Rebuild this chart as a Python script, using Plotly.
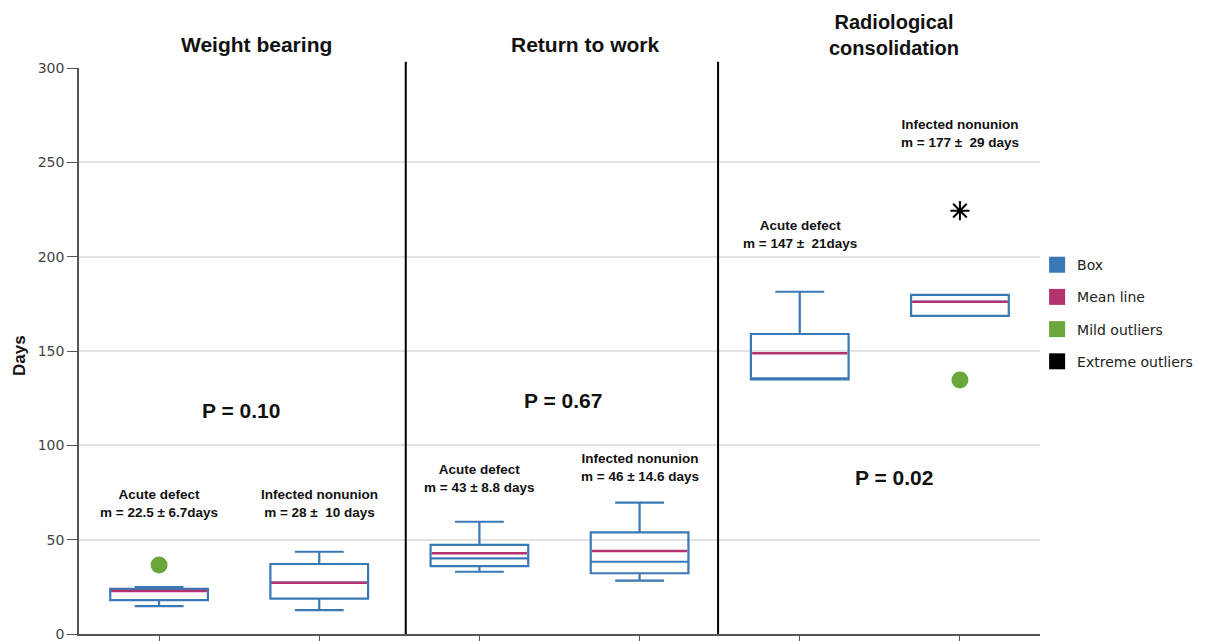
import plotly.graph_objects as go

# ---- data ----
panels = ["Weight bearing", "Return to work", "Radiological<br>consolidation"]
groups = ["Acute defect", "Infected nonunion", "Acute defect", "Infected nonunion",
          "Acute defect", "Infected nonunion"]
positions = [0, 1, 2, 3, 4, 5]
q1 = [18.0, 18.7, 36.0, 32.2, 135.0, 168.6]
median = [22.8, 27.2, 40.1, 38.3, 135.5, 176.1]
q3 = [23.9, 37.1, 47.2, 53.9, 159.0, 179.7]
lower_fence = [14.8, 12.7, 33.0, 28.3, 135.0, 168.6]
upper_fence = [24.9, 43.6, 59.5, 69.6, 181.4, 179.7]
means = [22.8, 27.2, 42.8, 44.0, 148.8, 176.1]
mean_labels = ["m = 22.5 ± 6.7days", "m = 28 ±  10 days", "m = 43 ± 8.8 days",
               "m = 46 ± 14.6 days", "m = 147 ±  21days", "m = 177 ±  29 days"]
mild_x = [0, 5]
mild_y = [36.6, 134.6]
extreme_x = [5]
extreme_y = [224.4]
p_values = ["P = 0.10", "P = 0.67", "P = 0.02"]
y_ticks = [0, 50, 100, 150, 200, 250, 300]

# ---- styles / positions ----
BLUE = "#3a78b6"
MAGENTA = "#b3336f"
GREEN = "#6aa63a"
label_y = [59.5, 59.5, 72.5, 78.7, 202.0, 255.7]
p_pos = [(0.51, 118.7), (2.52, 124.0), (4.59, 82.7)]
title_pos = [(0.61, 1.042), (2.66, 1.042), (4.59, 1.058)]
title_size = [21, 21, 20]
dividers = [1.54, 3.49]

fig = go.Figure()

fig.add_trace(go.Box(
    x=positions, q1=q1, median=median, q3=q3,
    lowerfence=lower_fence, upperfence=upper_fence,
    width=0.61, boxpoints=False, fillcolor="rgba(0,0,0,0)",
    line=dict(color=BLUE, width=2.2), showlegend=False, hoverinfo="skip"))

fig.add_trace(go.Scatter(
    x=positions, y=means, mode="markers", showlegend=False,
    marker=dict(symbol="line-ew", size=68, color=MAGENTA,
                line=dict(color=MAGENTA, width=2.5))))

fig.add_trace(go.Scatter(
    x=mild_x, y=mild_y, mode="markers", showlegend=False,
    marker=dict(symbol="circle", size=17, color=GREEN)))

fig.add_trace(go.Scatter(
    x=extreme_x, y=extreme_y, mode="markers", showlegend=False,
    marker=dict(symbol="asterisk-open", size=16, color="black",
                line=dict(color="black", width=2))))

# legend entries
for name, col in [("Box", BLUE), ("Mean line", MAGENTA),
                  ("Mild outliers", GREEN), ("Extreme outliers", "black")]:
    fig.add_trace(go.Scatter(
        x=[None], y=[None], mode="markers", name=name, legendgroup=name,
        marker=dict(symbol="square", size=18, color=col)))

annotations = []
for x, y, g, m in zip(positions, label_y, groups, mean_labels):
    annotations.append(dict(
        x=x, y=y, xref="x", yref="y", text=f"<b>{g}<br>{m}</b>",
        showarrow=False, yanchor="bottom", align="center",
        font=dict(family="Liberation Sans", size=13.5, color="#111")))
for (x, y), p in zip(p_pos, p_values):
    annotations.append(dict(
        x=x, y=y, xref="x", yref="y", text=f"<b>{p}</b>", showarrow=False,
        font=dict(family="Liberation Sans", size=21, color="#111")))
for (x, y), t, s in zip(title_pos, panels, title_size):
    annotations.append(dict(
        x=x, y=y, xref="x", yref="paper", text=f"<b>{t}</b>", showarrow=False,
        xanchor="center", yanchor="middle",
        font=dict(family="Liberation Sans", size=s, color="#111")))
annotations.append(dict(
    x=-0.0614, y=0.493, xref="paper", yref="paper", text="<b>Days</b>",
    textangle=-90, showarrow=False, xanchor="center", yanchor="middle",
    font=dict(family="Liberation Sans", size=17, color="#111")))

shapes = []
for d in dividers:
    shapes.append(dict(type="line", xref="x", yref="paper", x0=d, x1=d, y0=0, y1=1.011,
                       line=dict(color="black", width=2)))

# the page body has an 8px margin, so the figure is 8px smaller on each axis
fig.update_layout(
    width=1206, height=633,
    margin=dict(l=71, r=174, t=60, b=7),
    plot_bgcolor="white", paper_bgcolor="white",
    annotations=annotations, shapes=shapes,
    legend=dict(x=0.997, y=0.68, xanchor="left", yanchor="top",
                font=dict(family="DejaVu Sans", size=14, color="#222"),
                tracegroupgap=11, bgcolor="rgba(0,0,0,0)"),
    xaxis=dict(range=[-0.5, 5.5], tickvals=positions, showticklabels=False,
               ticks="outside", ticklen=8, tickcolor="#555", showgrid=False,
               showline=True, linecolor="#555", linewidth=1.5, zeroline=False,
               automargin=False),
    yaxis=dict(range=[0, 300], tickvals=y_ticks, ticks="outside", ticklen=10,
               tickcolor="#555", showline=True, linecolor="#555", linewidth=1.5,
               showgrid=True, gridcolor="#e3e3e3", gridwidth=1.5, zeroline=False,
               automargin=False, ticklabeloverflow="allow",
               tickfont=dict(family="DejaVu Sans", size=14, color="#444")),
)

fig.write_html("out.html")
